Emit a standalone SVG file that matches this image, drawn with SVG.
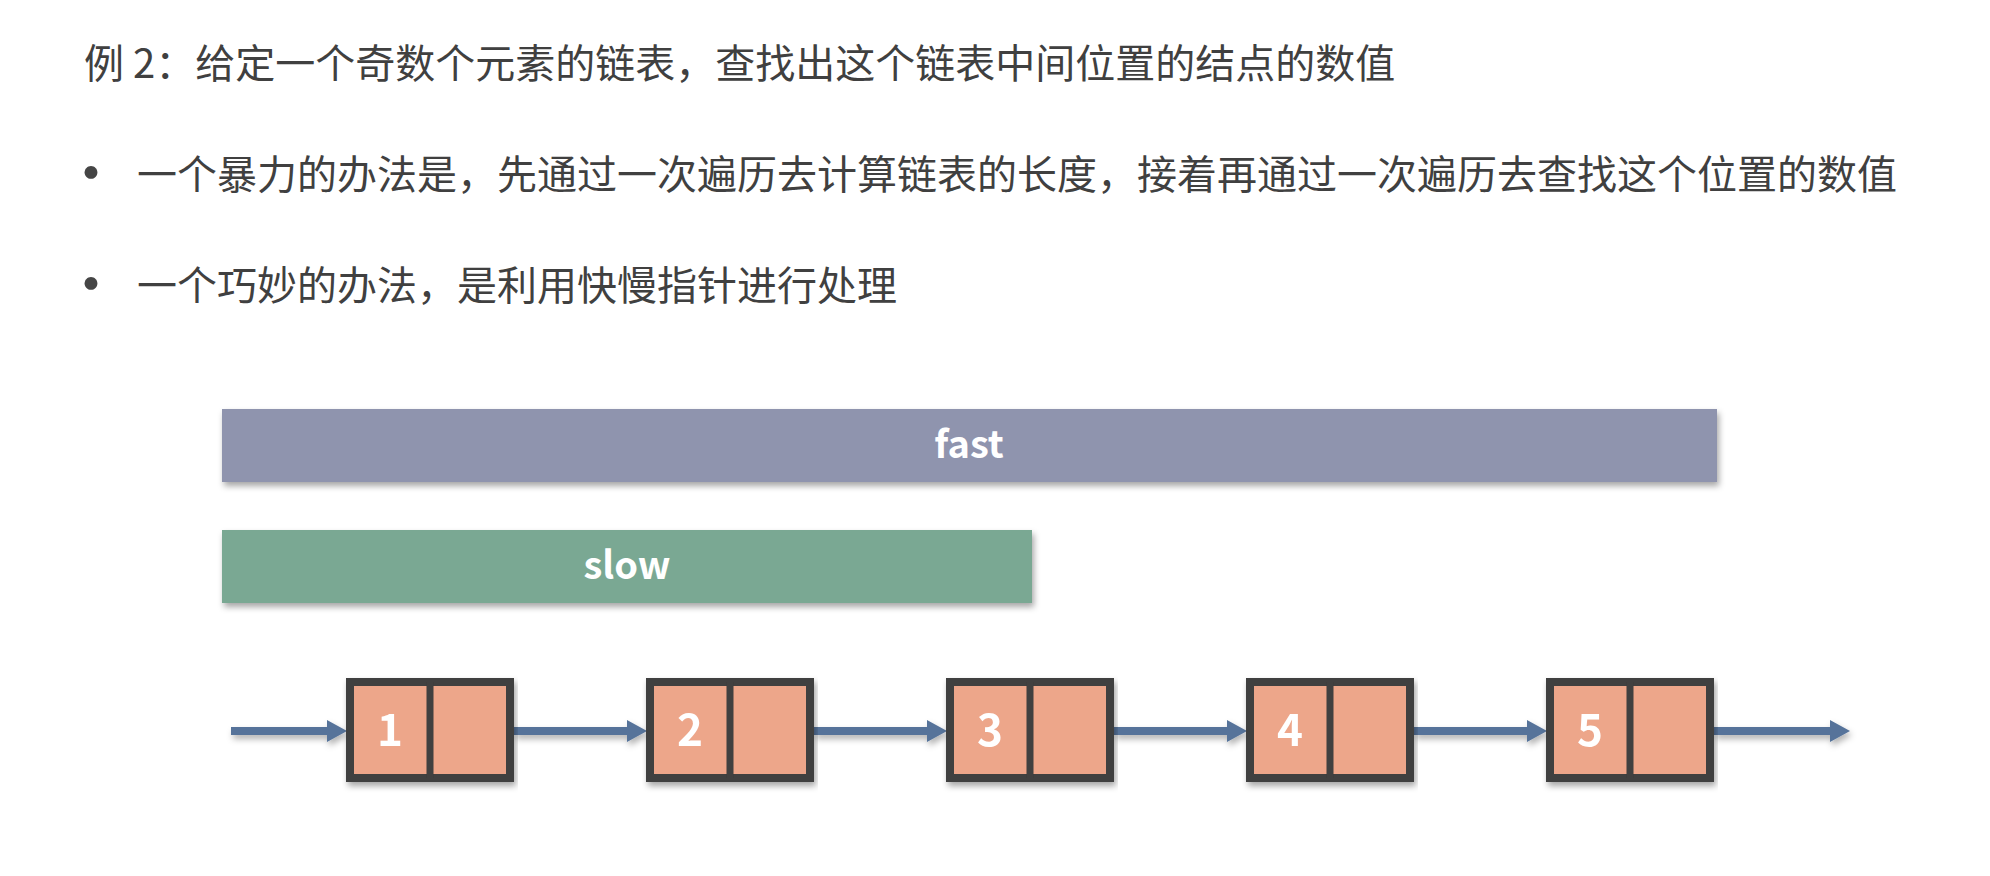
<svg xmlns="http://www.w3.org/2000/svg" width="1990" height="876" viewBox="0 0 1990 876">
<style>
.txt{font-family:"Noto Sans CJK SC","Noto Sans",sans-serif;font-size:40px;fill:#404040}
.bul{font-family:"Noto Sans CJK SC","Noto Sans",sans-serif;font-size:50px;font-weight:bold;fill:#454545;text-anchor:middle}
.lbl{font-family:"Noto Sans CJK SC","Noto Sans",sans-serif;font-weight:bold;fill:#ffffff;text-anchor:middle}
.node rect{fill:#eda68a;stroke:#3f3f3f;stroke-width:8}
.node line{stroke:#3f3f3f;stroke-width:7}
.conn line{stroke:#56739a;stroke-width:8}
</style>
<defs>
<filter id="sh" x="-5%" y="-20%" width="110%" height="150%">
<feDropShadow dx="2" dy="4" stdDeviation="3" flood-color="#000" flood-opacity="0.35"/>
</filter>
<filter id="shc" filterUnits="userSpaceOnUse" x="0" y="600" width="1990" height="276">
<feDropShadow dx="2" dy="4" stdDeviation="3" flood-color="#000" flood-opacity="0.3"/>
</filter>
<marker id="ah" markerUnits="userSpaceOnUse" markerWidth="22" markerHeight="24" refX="10" refY="11" orient="auto">
<path d="M0,0 L20,11 L0,22 z" fill="#56739a"/>
</marker>
</defs>
<rect width="1990" height="876" fill="#ffffff"/>
<g id="texts">
<text class="txt" x="84" y="78">例 2：给定一个奇数个元素的链表，查找出这个链表中间位置的结点的数值</text>
<text class="bul" x="91" y="191">·</text>
<text class="txt" x="137" y="189">一个暴力的办法是，先通过一次遍历去计算链表的长度，接着再通过一次遍历去查找这个位置的数值</text>
<text class="bul" x="91" y="302">·</text>
<text class="txt" x="137" y="300">一个巧妙的办法，是利用快慢指针进行处理</text>
</g>
<g id="fast">
<rect x="222" y="409" width="1495" height="73" fill="#8f94ae" filter="url(#sh)"/>
<text class="lbl" x="969" y="458" font-size="38">fast</text>
</g>
<g id="slow">
<rect x="222" y="530" width="810" height="73" fill="#7aa893" filter="url(#sh)"/>
<text class="lbl" x="627" y="579" font-size="38">slow</text>
</g>
<g id="connectors" class="conn" filter="url(#shc)">
<line x1="231" y1="731" x2="337" y2="731" marker-end="url(#ah)"/>
<line x1="514" y1="731" x2="637" y2="731" marker-end="url(#ah)"/>
<line x1="814" y1="731" x2="937" y2="731" marker-end="url(#ah)"/>
<line x1="1114" y1="731" x2="1237" y2="731" marker-end="url(#ah)"/>
<line x1="1414" y1="731" x2="1537" y2="731" marker-end="url(#ah)"/>
<line x1="1714" y1="731" x2="1840" y2="731" marker-end="url(#ah)"/>
</g>
<g id="node1" class="node" filter="url(#sh)">
<rect x="350" y="682" width="160" height="96"/><line x1="430" y1="682" x2="430" y2="778"/>
<text class="lbl" x="390" y="746" font-size="44">1</text>
</g>
<g id="node2" class="node" filter="url(#sh)">
<rect x="650" y="682" width="160" height="96"/><line x1="730" y1="682" x2="730" y2="778"/>
<text class="lbl" x="690" y="746" font-size="44">2</text>
</g>
<g id="node3" class="node" filter="url(#sh)">
<rect x="950" y="682" width="160" height="96"/><line x1="1030" y1="682" x2="1030" y2="778"/>
<text class="lbl" x="990" y="746" font-size="44">3</text>
</g>
<g id="node4" class="node" filter="url(#sh)">
<rect x="1250" y="682" width="160" height="96"/><line x1="1330" y1="682" x2="1330" y2="778"/>
<text class="lbl" x="1290" y="746" font-size="44">4</text>
</g>
<g id="node5" class="node" filter="url(#sh)">
<rect x="1550" y="682" width="160" height="96"/><line x1="1630" y1="682" x2="1630" y2="778"/>
<text class="lbl" x="1590" y="746" font-size="44">5</text>
</g>
</svg>
